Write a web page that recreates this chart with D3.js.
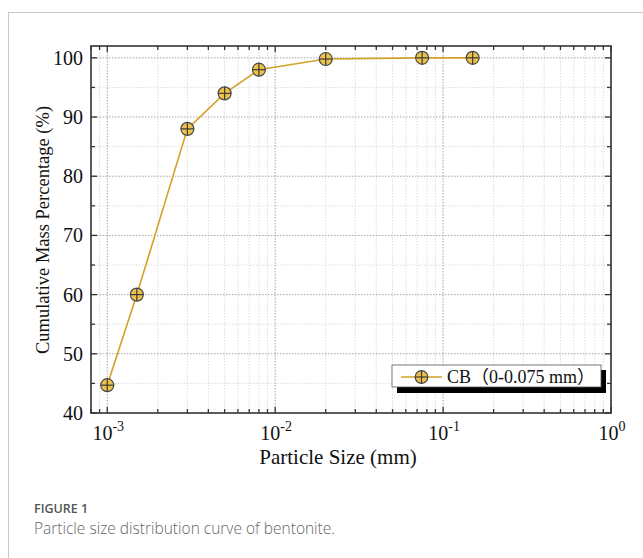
<!DOCTYPE html>
<html>
<head>
<meta charset="utf-8">
<script src="https://cdn.jsdelivr.net/npm/d3@7"></script>
<style>
  html, body { margin: 0; padding: 0; background: #fff; }
  svg { display: block; }
</style>
</head>
<body>
<svg id="chart" width="643" height="558"></svg>
<script>
// Particle size (mm) and cumulative passing (%)
const sizes = [0.001, 0.0015, 0.003, 0.005, 0.008, 0.02, 0.075, 0.15];
const cumulative = [44.7, 60, 88, 94, 98, 99.8, 100, 100];
const seriesName = "CB\uFF080-0.075 mm\uFF09";
const yTicks = [40, 50, 60, 70, 80, 90, 100];
const xTickExponents = [-3, -2, -1, 0];

const svg = d3.select("#chart");
const serif = "'Liberation Serif', 'Times New Roman', serif";
const lineColor = "#d2a228";
const markerFill = "#eec24a";
const frameColor = "#333";

// card outline
svg.append("rect")
  .attr("x", 8.5).attr("y", 12.5)
  .attr("width", 700).attr("height", 600)
  .attr("fill", "none").attr("stroke", "#c8c8c8").attr("stroke-width", 1);

const L = 91, R = 611, T = 46, B = 413;
const x = d3.scaleLog().domain([0.0008, 1]).range([L, R]);
const y = d3.scaleLinear().domain([40, 102]).range([B, T]);

// minor / major tick values
const xMajor = xTickExponents.map(e => Math.pow(10, e));
const xMinor = [];
for (let e = -4; e < 0; e++) {
  for (let m = 2; m <= 9; m++) {
    const v = m * Math.pow(10, e);
    if (v >= 0.0008 && v <= 1) xMinor.push(v);
  }
}
const yMinor = d3.range(45, 102, 10);

const grid = svg.append("g");
// minor grid
grid.selectAll(".gxm").data(xMinor).enter().append("line")
  .attr("x1", d => x(d)).attr("x2", d => x(d)).attr("y1", T).attr("y2", B)
  .attr("stroke", "#d4d4d4").attr("stroke-width", 0.8).attr("stroke-dasharray", "1.5,1.5");
grid.selectAll(".gym").data(yMinor).enter().append("line")
  .attr("x1", L).attr("x2", R).attr("y1", d => y(d)).attr("y2", d => y(d))
  .attr("stroke", "#d4d4d4").attr("stroke-width", 0.8).attr("stroke-dasharray", "1.5,1.5");
// major grid
grid.selectAll(".gx").data(xMajor).enter().append("line")
  .attr("x1", d => x(d)).attr("x2", d => x(d)).attr("y1", T).attr("y2", B)
  .attr("stroke", "#9a9a9a").attr("stroke-width", 0.9).attr("stroke-dasharray", "1.5,1.5");
grid.selectAll(".gy").data(yTicks.slice(1)).enter().append("line")
  .attr("x1", L).attr("x2", R).attr("y1", d => y(d)).attr("y2", d => y(d))
  .attr("stroke", "#9a9a9a").attr("stroke-width", 0.9).attr("stroke-dasharray", "1.5,1.5");

// inward ticks on all four sides
const ticks = svg.append("g").attr("stroke", frameColor).attr("stroke-width", 1.3);
function xTicks(vals, len) {
  vals.forEach(v => {
    ticks.append("line").attr("x1", x(v)).attr("x2", x(v)).attr("y1", B).attr("y2", B - len);
    ticks.append("line").attr("x1", x(v)).attr("x2", x(v)).attr("y1", T).attr("y2", T + len);
  });
}
function yTicksDraw(vals, len) {
  vals.forEach(v => {
    ticks.append("line").attr("x1", L).attr("x2", L + len).attr("y1", y(v)).attr("y2", y(v));
    ticks.append("line").attr("x1", R).attr("x2", R - len).attr("y1", y(v)).attr("y2", y(v));
  });
}
xTicks(xMajor, 6);
xTicks(xMinor, 4);
yTicksDraw(yTicks, 6);
yTicksDraw(yMinor, 4);

// frame
svg.append("rect")
  .attr("x", L).attr("y", T).attr("width", R - L).attr("height", B - T)
  .attr("fill", "none").attr("stroke", frameColor).attr("stroke-width", 1.6);

// y tick labels
svg.append("g").selectAll("text").data(yTicks).enter().append("text")
  .attr("x", 83).attr("y", d => y(d)).attr("dy", "0.35em")
  .attr("text-anchor", "end")
  .attr("font-family", serif).attr("font-size", 20).attr("fill", "#111")
  .text(d => d);

// x tick labels (powers of ten)
const xl = svg.append("g").selectAll("text").data(xTickExponents).enter().append("text")
  .attr("x", d => x(Math.pow(10, d)) + 1).attr("y", 440)
  .attr("text-anchor", "middle")
  .attr("font-family", serif).attr("font-size", 20).attr("fill", "#111");
xl.append("tspan").text("10");
xl.append("tspan").attr("dy", -9).attr("font-size", 14).text(d => d === 0 ? "0" : String(d));

// axis titles
svg.append("text")
  .attr("x", 338).attr("y", 464).attr("text-anchor", "middle")
  .attr("font-family", serif).attr("font-size", 21).attr("fill", "#111")
  .text("Particle Size (mm)");
svg.append("text")
  .attr("transform", "translate(49,230) rotate(-90)")
  .attr("text-anchor", "middle")
  .attr("font-family", serif).attr("font-size", 18.5).attr("fill", "#111")
  .text("Cumulative Mass Percentage (%)");

// data line
const pts = sizes.map((s, i) => [s, cumulative[i]]);
svg.append("path")
  .attr("d", d3.line().x(d => x(d[0])).y(d => y(d[1]))(pts))
  .attr("fill", "none").attr("stroke", lineColor).attr("stroke-width", 1.6);

function marker(g, cx, cy, r) {
  g.append("circle").attr("cx", cx).attr("cy", cy).attr("r", r)
    .attr("fill", markerFill).attr("stroke", "#4a4a4a").attr("stroke-width", 1.2);
  g.append("line").attr("x1", cx - r).attr("x2", cx + r).attr("y1", cy).attr("y2", cy)
    .attr("stroke", "#3a3a3a").attr("stroke-width", 1.2);
  g.append("line").attr("x1", cx).attr("x2", cx).attr("y1", cy - r).attr("y2", cy + r)
    .attr("stroke", "#3a3a3a").attr("stroke-width", 1.2);
}
const mk = svg.append("g");
pts.forEach(d => marker(mk, x(d[0]), y(d[1]), 6.5));

// legend with drop shadow
const lg = svg.append("g");
lg.append("rect").attr("x", 397).attr("y", 370).attr("width", 209).attr("height", 23).attr("fill", "#000");
lg.append("rect").attr("x", 392).attr("y", 365).attr("width", 209).attr("height", 22)
  .attr("fill", "#fff").attr("stroke", "#555").attr("stroke-width", 0.8);
lg.append("line").attr("x1", 401).attr("x2", 442).attr("y1", 377).attr("y2", 377)
  .attr("stroke", lineColor).attr("stroke-width", 1.6);
marker(lg, 421.5, 377, 6.3);
lg.append("text").attr("x", 447).attr("y", 377).attr("dy", "0.35em")
  .attr("font-family", "'Liberation Serif', 'Noto Sans CJK SC', serif")
  .attr("font-size", 18).attr("fill", "#111")
  .text(seriesName);

// caption
svg.append("text").attr("x", 34).attr("y", 513)
  .attr("font-family", "'Open Sans', 'Noto Sans', sans-serif").attr("font-size", 12.5)
  .attr("font-weight", 600).attr("fill", "#555").text("FIGURE 1");
svg.append("text").attr("x", 34).attr("y", 534)
  .attr("font-family", "'Open Sans', 'Noto Sans', sans-serif").attr("font-size", 15.5)
  .attr("font-weight", 300).attr("fill", "#666").text("Particle size distribution curve of bentonite.");
</script>
</body>
</html>
